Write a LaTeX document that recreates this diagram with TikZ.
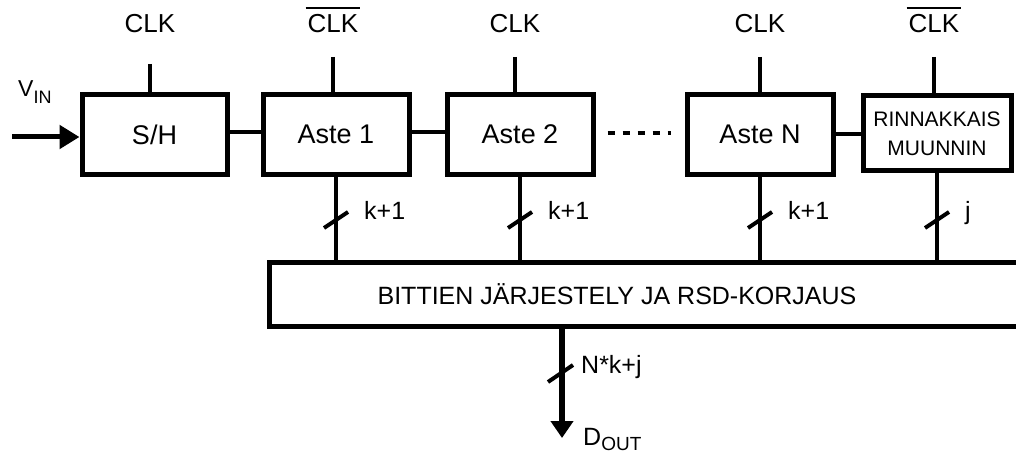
\documentclass[tikz,border=0pt]{standalone}
\usepackage{fontspec}
\setmainfont{Liberation Sans}
\usetikzlibrary{arrows.meta}
% inverted clock label: CLK with a bar over it
\newcommand{\barclk}{\hbox{\kern-2pt\vbox{\hrule height 2pt\kern 5.5pt\hbox{\kern2pt CLK\kern2pt}}\kern-2pt}}
\begin{document}
\begin{tikzpicture}[x=1pt,y=-1pt,
  blk/.style={draw, line width=5pt, minimum width=146pt, minimum height=80pt,
              inner sep=0pt, font=\fontsize{27}{31}\selectfont},
  wire/.style={line width=4pt},
  clkwire/.style={line width=3.5pt},
  lbl/.style={inner sep=0pt, font=\fontsize{25}{30}\selectfont},
  clklbl/.style={inner sep=0pt, font=\fontsize{26}{30}\selectfont},
  slashmark/.style={line width=4pt},
]
\useasboundingbox (0,0) rectangle (1016,454);

% pipeline stages
\node[blk, minimum width=145pt] (sh) at (154.5,134.5) {S/H};
\node[blk] (a1) at (336,134.5) {Aste 1};
\node[blk] (a2) at (520,134.5) {Aste 2};
\node[blk] (aN) at (760,134.5) {Aste N};
\node[blk, minimum width=148pt, minimum height=75pt, align=center,
      font=\fontsize{21}{29}\selectfont] (rp) at (937,133.5) {RINNAKKAIS\\MUUNNIN};

% digital correction block (runs off the right edge)
\node[blk, minimum width=761pt, minimum height=64pt,
      font=\fontsize{25}{30}\selectfont] (bot) at (649.5,294)
      {BITTIEN JÄRJESTELY JA RSD-KORJAUS\hspace*{65pt}};

% clock inputs
\coordinate (k0) at (150,64);
\coordinate (k1) at (333,57);
\coordinate (k2) at (515,57);
\coordinate (kN) at (760,57);
\coordinate (kR) at (934,57);
\node[clklbl, anchor=base] (c0) at (150,33) {CLK};
\node[clklbl, anchor=base] (c1) at (333,33) {\barclk};
\node[clklbl, anchor=base] (c2) at (515,33) {CLK};
\node[clklbl, anchor=base] (cN) at (760,33) {CLK};
\node[clklbl, anchor=base] (cR) at (934,33) {\barclk};
\draw[clkwire] (k0) -- (k0 |- sh.north);
\draw[clkwire] (k1) -- (k1 |- a1.north);
\draw[clkwire] (k2) -- (k2 |- a2.north);
\draw[clkwire] (kN) -- (kN |- aN.north);
\draw[clkwire] (kR) -- (kR |- rp.north);

% analog input
\coordinate (vin) at (12,137);
\draw[line width=5pt, -{Triangle[length=20pt,width=23pt]}] (vin) -- (vin -| sh.west);
\node[lbl, anchor=base west, font=\fontsize{23}{26}\selectfont] (vinlbl) at (18,97)
      {V\raisebox{-6.5pt}{\fontsize{18}{18}\selectfont IN}};

% stage-to-stage links
\draw[wire] ([yshift=2.5pt]sh.east) -- ([yshift=2.5pt]a1.west);
\draw[wire] ([yshift=2.5pt]a1.east) -- ([yshift=2.5pt]a2.west);
\draw[line width=4pt, dash pattern=on 7pt off 8pt, shorten <=12pt, shorten >=14pt]
      ([yshift=1.5pt]a2.east) -- ([yshift=1.5pt]aN.west);
\draw[wire] (aN.east) -- (rp.west |- aN.east);

% output buses into the correction block
\coordinate (lev) at (0,220);
\foreach \s/\t/\n in {a1/k+1/1, a2/k+1/2, aN/k+1/N, rp/j/R}{
  \draw[wire] (\s.south) -- (\s.south |- bot.north);
  \coordinate (s\n) at (\s.south |- lev);
  \draw[slashmark] (s\n) +(-12,8) -- +(12,-8);
  \node[lbl, anchor=base west] (w\n) at ([xshift=28pt]s\n) {\t};
}

% digital output
\coordinate (dout) at (562,438);
\coordinate (lev2) at (0,373);
\draw[line width=5.5pt, -{Triangle[length=17pt,width=22pt]}] (dout |- bot.south) -- (dout);
\coordinate (so) at (dout |- lev2);
\draw[slashmark] (so) +(-14,9) -- +(11,-8);
\node[lbl, anchor=base west] (wo) at ([xshift=19pt]so) {N*k+j};
\node[lbl, anchor=base west] (doutlbl) at (583,445)
      {D\raisebox{-5pt}{\fontsize{19}{19}\selectfont OUT}};
\end{tikzpicture}
\end{document}
